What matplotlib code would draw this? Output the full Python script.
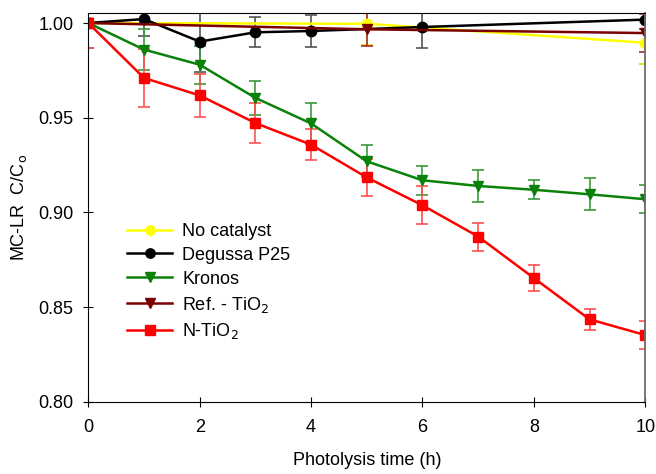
import matplotlib.pyplot as plt

plt.rcParams['font.family'] = ['Liberation Sans', 'DejaVu Sans']

# photolysis time (h) and C/Co for each catalyst
t_none = [0, 5, 10]
c_none = [1.000, 0.9996, 0.9896]
e_none = [0.013, 0.011, 0.011]

t_p25 = [0, 1, 2, 3, 4, 6, 10]
c_p25 = [1.000, 1.0021, 0.9902, 0.9951, 0.9958, 0.9979, 1.0018]
e_p25 = [0.0, 0.009, 0.016, 0.008, 0.0086, 0.011, 0.005]

t_kronos = [0, 1, 2, 3, 4, 5, 6, 7, 8, 9, 10]
c_kronos = [1.000, 0.986, 0.978, 0.9605, 0.947, 0.927, 0.917, 0.914, 0.912, 0.9096, 0.907]
e_kronos = [0.0, 0.011, 0.010, 0.009, 0.0106, 0.0085, 0.0078, 0.0086, 0.005, 0.0085, 0.0074]

t_ref = [0, 5, 10]
c_ref = [1.000, 0.9967, 0.9947]
e_ref = [0.013, 0.0087, 0.010]

t_ntio2 = [0, 1, 2, 3, 4, 5, 6, 7, 8, 9, 10]
c_ntio2 = [1.000, 0.971, 0.9618, 0.9472, 0.9358, 0.9185, 0.9038, 0.8873, 0.8654, 0.8436, 0.8353]
e_ntio2 = [0.013, 0.0155, 0.0115, 0.0106, 0.0083, 0.0099, 0.010, 0.0074, 0.0067, 0.0057, 0.0073]

series = [
    (t_none, c_none, e_none, "No catalyst", "#ffff00", "#e6d800", "o"),
    (t_p25, c_p25, e_p25, "Degussa P25", "black", "#555555", "o"),
    (t_kronos, c_kronos, e_kronos, "Kronos", "#0a820a", "#3c9a3c", "v"),
    (t_ref, c_ref, e_ref, r"Ref. - TiO$_2$", "#7a0000", "#a03030", "v"),
    (t_ntio2, c_ntio2, e_ntio2, r"N-TiO$_2$", "#ff0000", "#ff5050", "s"),
]

FS = 13

fig = plt.figure(figsize=(6.56, 4.74), dpi=100)
ax = fig.add_axes([0.1346, 0.152, 0.849, 0.821])

handles = []
for t, c, e, lab, col, ecol, mk in series:
    cont = ax.errorbar(t, c, yerr=e, color=col, ecolor=ecol, elinewidth=1.2,
                       capsize=4.5, capthick=1.2, marker=mk, markersize=7.5,
                       linewidth=1.8, label=lab)
    handles.append(cont[0])

ax.set_xlim(0, 10)
ax.set_ylim(0.80, 1.0054)
ax.set_xticks([0, 2, 4, 6, 8, 10])
ax.set_yticks([0.80, 0.85, 0.90, 0.95, 1.00])
ax.set_yticklabels(["0.80", "0.85", "0.90", "0.95", "1.00"])
ax.tick_params(direction='inout', length=7, labelsize=FS, top=False, right=False)
ax.tick_params(axis='x', pad=9)
ax.tick_params(axis='y', pad=7)
ax.spines['right'].set_color('#6e6e6e')
ax.spines['right'].set_linewidth(1.3)

ax.set_xlabel("Photolysis time (h)", fontsize=FS, labelpad=11)
ax.set_ylabel(r"MC-LR  C/C$_{\rm o}$", fontsize=FS, labelpad=7)

ax.legend(handles=handles, labels=[s[3] for s in series], loc='upper left',
          bbox_to_anchor=(0.07, 0.46), frameon=False, fontsize=FS,
          handlelength=2.5, labelspacing=0.38, handletextpad=0.55,
          borderaxespad=0, borderpad=0, markerscale=0.9)

fig.savefig("out.png", dpi=100)
